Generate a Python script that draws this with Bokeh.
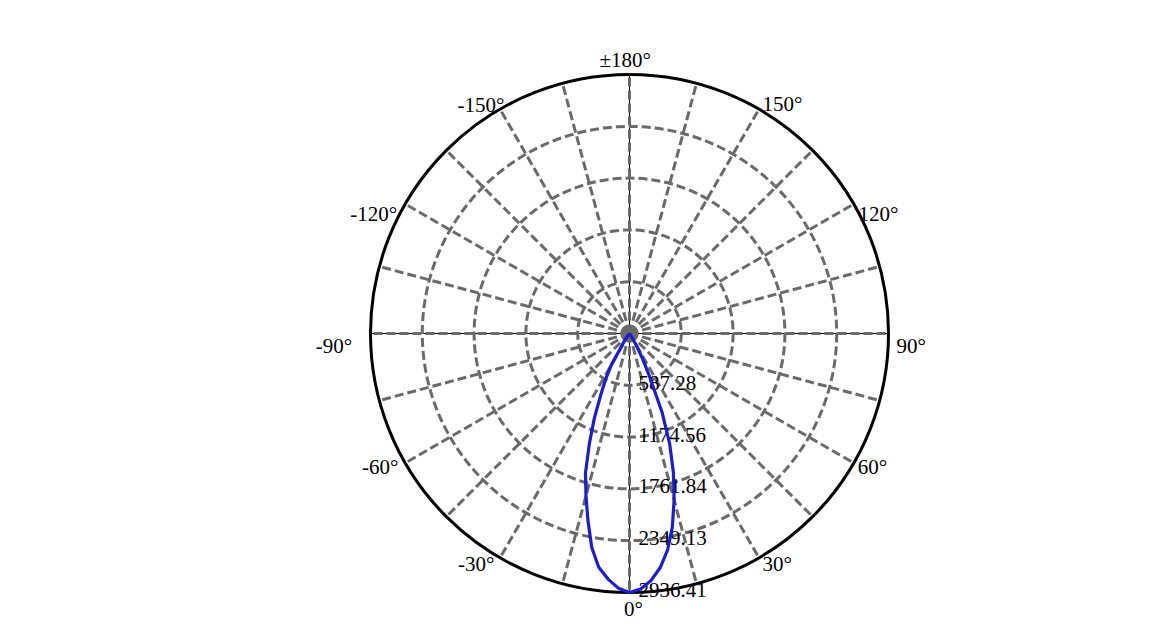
import numpy as np
from bokeh.plotting import figure
from bokeh.models import Range1d, ColumnDataSource
from bokeh.embed import file_html
from bokeh.resources import INLINE
from bokeh.core.properties import value

# ---------------- data ----------------
beam_angles = [-45, -40, -35, -30, -27.5, -25, -22.5, -20, -17.5, -15, -12.5, -10, -7.5, -5, -2.5,
               0,
               2.5, 5, 7.5, 10, 12.5, 15, 17.5, 20, 22.5, 25, 27.5, 30, 35, 40, 45]
beam_intensity = [0, 0, 90, 414, 590, 775, 1045, 1332, 1660, 1906, 2175, 2464, 2672, 2795, 2890,
                  2936.41,
                  2900, 2810, 2676, 2490, 2245, 1955, 1656, 1333, 960, 540, 315, 150, 30, 0, 0]
max_value = 2936.41
ring_values = [587.28, 1174.56, 1761.84, 2349.13, 2936.41]
ring_labels = ["587.28", "1174.56", "1761.84", "2349.13", "2936.41"]
spoke_angles = list(range(0, 360, 15))
angle_label_deg = [180, 150, 120, 90, 60, 30, 0, -30, -60, -90, -120, -150]
angle_label_text = ["±180°", "150°", "120°", "90°", "60°", "30°", "0°",
                    "-30°", "-60°", "-90°", "-120°", "-150°"]

# ---------------- style ----------------
W, H = 1150, 630
CX, CY = 629, 333          # centre of the polar plot inside the figure (px)
R_PX = 259                 # outer radius (px)
k = max_value / R_PX       # data units per pixel
label_align = ["center", "left", "left", "left", "left", "left", "center",
               "right", "right", "right", "right", "right"]
label_dx = [-4.3, 3.5, 4.7, 8, 4, 3.5, 4, -5.5, -6.7, -18.3, -8, 4.5]
label_dy = [-15, -4.7, 9.5, 12, 3.5, 6, 16, 5.7, 3.5, 12, 10, -3.7]
GRID = "#6a6a6a"
FONT = value("Liberation Serif")
FSIZE = "21px"


def polar(theta_deg, r):
    t = np.radians(np.asarray(theta_deg, dtype=float))
    r = np.asarray(r, dtype=float)
    return r * np.sin(t), -r * np.cos(t)


p = figure(width=W, height=H, output_backend="svg", toolbar_location=None,
           x_range=Range1d(-CX * k, (W - CX) * k), y_range=Range1d(-(H - CY) * k, CY * k),
           min_border=0, outline_line_color=None)
p.axis.visible = False
p.grid.visible = False
p.background_fill_color = "white"
p.border_fill_color = "white"

# thin black axis lines
p.line([-max_value, max_value], [0, 0], line_color="black", line_width=1)
p.line([0, 0], [-max_value, max_value], line_color="black", line_width=1)

# spokes
sx, sy = polar(spoke_angles, [max_value] * len(spoke_angles))
p.multi_line(xs=[[0, x] for x in sx], ys=[[0, y] for y in sy],
             line_color=GRID, line_width=3, line_dash="9 4")

# rings
p.circle(x=[0] * (len(ring_values) - 1), y=[0] * (len(ring_values) - 1),
         radius=ring_values[:-1], fill_color=None, line_color=GRID,
         line_width=3, line_dash="9 4")

# centre blob
p.circle(x=[0], y=[0], radius=9 * k, fill_color=GRID, line_color=None)

# outer circle
p.circle(x=[0], y=[0], radius=ring_values[-1], fill_color=None,
         line_color="black", line_width=3)

# radial value labels
p.text(x=[0] * len(ring_values), y=[-v for v in ring_values], text=ring_labels,
       x_offset=9, y_offset=-2.5, text_align="left", text_baseline="middle",
       text_font=FONT, text_font_size=FSIZE, text_color="black")

# angle labels
lx, ly = polar(angle_label_deg, [max_value] * len(angle_label_deg))
src = dict(x=lx, y=ly, text=angle_label_text, dx=label_dx, dy=label_dy)
for a in ["left", "right", "center"]:
    idx = [i for i, al in enumerate(label_align) if al == a]
    s = ColumnDataSource({key: [src[key][i] for i in idx] for key in src})
    p.text(x="x", y="y", text="text", x_offset="dx", y_offset="dy", source=s,
           text_align=a, text_baseline="middle", text_font=FONT,
           text_font_size=FSIZE, text_color="black")

# beam curve
bx, by = polar(beam_angles, beam_intensity)
p.line(bx, by, line_color="#1c1cd2", line_width=3.2, line_join="round")

open("out.html", "w").write(file_html(p, INLINE))
